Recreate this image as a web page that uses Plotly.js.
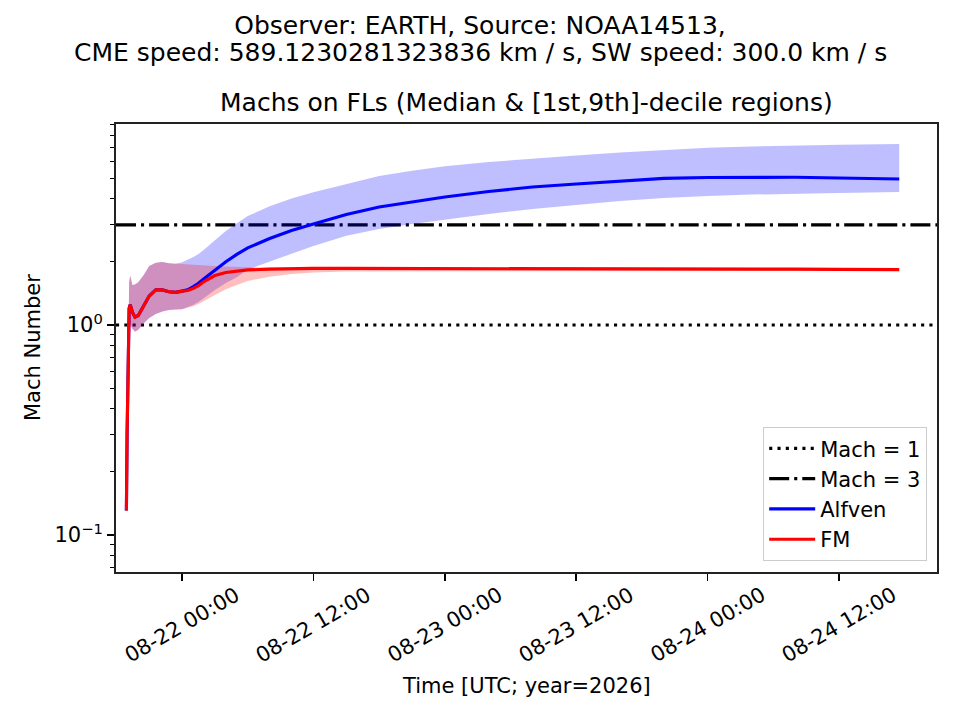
<!DOCTYPE html>
<html>
<head>
<meta charset="utf-8">
<script src="https://cdn.plot.ly/plotly-3.0.1.min.js"></script>
<style>
  html, body { margin: 0; padding: 0; background: #fff; }
  #chart { width: 960px; height: 720px; }
</style>
</head>
<body>
<div id="chart"></div>
<script>
/* Mach numbers along field lines: median + [1st,9th]-decile bands */

const times = [
  "2026-08-21 18:55", "2026-08-21 18:59", "2026-08-21 19:10", "2026-08-21 19:16",
  "2026-08-21 19:28", "2026-08-21 19:42", "2026-08-21 20:00", "2026-08-21 20:30",
  "2026-08-21 21:00", "2026-08-21 21:36", "2026-08-21 22:12", "2026-08-21 22:48",
  "2026-08-21 23:24", "2026-08-22 00:00", "2026-08-22 00:30", "2026-08-22 01:00",
  "2026-08-22 01:30", "2026-08-22 02:00", "2026-08-22 03:00", "2026-08-22 04:00",
  "2026-08-22 05:00", "2026-08-22 06:00", "2026-08-22 08:00", "2026-08-22 10:00",
  "2026-08-22 12:00", "2026-08-22 15:00", "2026-08-22 18:00", "2026-08-22 21:00",
  "2026-08-23 00:00", "2026-08-23 04:00", "2026-08-23 08:00", "2026-08-23 12:00",
  "2026-08-23 16:00", "2026-08-23 20:00", "2026-08-24 00:00", "2026-08-24 04:00",
  "2026-08-24 08:00", "2026-08-24 12:00", "2026-08-24 17:30",
];

const alfvenMedian = [
  0.131, 0.31, 1.20, 1.25, 1.15, 1.09, 1.11, 1.245, 1.375, 1.47, 1.47, 1.44, 1.43,
  1.45, 1.47, 1.52, 1.58, 1.66, 1.83, 2.0, 2.17, 2.33, 2.58, 2.82, 3.03, 3.36,
  3.65, 3.87, 4.07, 4.32, 4.54, 4.69, 4.85, 4.99, 5.04, 5.05, 5.05, 5.01, 4.96,
];
const alfvenLow = [
  0.127, 0.29, 0.98, 1.0, 0.96, 0.93, 0.95, 1.02, 1.08, 1.13, 1.16, 1.18, 1.185,
  1.19, 1.22, 1.245, 1.287, 1.345, 1.468, 1.585, 1.69, 1.84, 2.01, 2.19, 2.38, 2.66,
  2.865, 3.03, 3.18, 3.38, 3.57, 3.73, 3.89, 4.03, 4.11, 4.18, 4.23, 4.25, 4.30,
];
const alfvenHigh = [
  0.135, 0.33, 1.6, 1.72, 1.55, 1.56, 1.6, 1.73, 1.91, 1.98, 1.995, 1.97, 1.96,
  1.99, 2.04, 2.1, 2.18, 2.28, 2.53, 2.8, 3.05, 3.3, 3.68, 4.0, 4.29, 4.7,
  5.12, 5.43, 5.7, 5.97, 6.2, 6.42, 6.63, 6.82, 6.98, 7.08, 7.16, 7.22, 7.27,
];

const fmMedian = [
  0.131, 0.31, 1.20, 1.25, 1.15, 1.09, 1.11, 1.245, 1.375, 1.47, 1.47, 1.44, 1.43,
  1.45, 1.46, 1.49, 1.54, 1.61, 1.72, 1.78, 1.81, 1.83, 1.845, 1.855, 1.86, 1.86,
  1.86, 1.86, 1.86, 1.86, 1.86, 1.86, 1.86, 1.855, 1.85, 1.848, 1.845, 1.84, 1.835,
];
const fmLow = [
  0.127, 0.29, 0.98, 1.0, 0.96, 0.93, 0.95, 1.02, 1.08, 1.13, 1.16, 1.18, 1.185,
  1.19, 1.21, 1.23, 1.26, 1.30, 1.39, 1.48, 1.55, 1.62, 1.70, 1.75, 1.78, 1.80,
  1.81, 1.815, 1.815, 1.815, 1.815, 1.815, 1.815, 1.815, 1.815, 1.812, 1.81, 1.81, 1.81,
];
const fmHigh = [
  0.135, 0.33, 1.6, 1.72, 1.55, 1.56, 1.6, 1.73, 1.91, 1.98, 1.995, 1.97, 1.96,
  1.95, 1.94, 1.93, 1.93, 1.92, 1.91, 1.90, 1.89, 1.885, 1.88, 1.88, 1.88, 1.88,
  1.88, 1.88, 1.88, 1.88, 1.88, 1.88, 1.878, 1.875, 1.872, 1.87, 1.868, 1.865, 1.86,
];

const machLevels = [1, 3];
const machNames = ["Mach = 1", "Mach = 3"];

const tickTimes = [
  "2026-08-22 00:00", "2026-08-22 12:00", "2026-08-23 00:00",
  "2026-08-23 12:00", "2026-08-24 00:00", "2026-08-24 12:00",
];
const tickLabels = [
  "08-22 00:00", "08-22 12:00", "08-23 00:00",
  "08-23 12:00", "08-24 00:00", "08-24 12:00",
];

const xMin = "2026-08-21 17:58";
const xMax = "2026-08-24 20:57";

const FONT = "DejaVu Sans, Liberation Sans, sans-serif";
const LW = 3.125;

function band(lo, hi, color) {
  return {
    type: "scatter",
    mode: "lines",
    x: times.concat(times.slice().reverse()),
    y: hi.concat(lo.slice().reverse()),
    fill: "toself",
    fillcolor: color,
    line: { width: 0 },
    showlegend: false,
    hoverinfo: "skip",
  };
}

function median(values, name, color) {
  return {
    type: "scatter",
    mode: "lines",
    name: name,
    x: times,
    y: values,
    line: { color: color, width: LW },
  };
}

const machDash = ["3.1px,5.2px", "20px,5px,3.1px,5px"];
const machTraces = machLevels.map((level, i) => ({
  type: "scatter",
  mode: "lines",
  name: machNames[i],
  x: [xMin, xMax],
  y: [level, level],
  line: { color: "#000000", width: LW, dash: machDash[i] },
  hoverinfo: "skip",
}));

const traces = [
  ...machTraces,
  band(alfvenLow, alfvenHigh, "rgba(0,0,255,0.25)"),
  band(fmLow, fmHigh, "rgba(255,0,0,0.25)"),
  median(alfvenMedian, "Alfven", "#0000ff"),
  median(fmMedian, "FM", "#ff0000"),
];

const minorVals = [];
[0.01, 0.1, 1].forEach((d) => {
  for (let k = 2; k <= 9; k++) minorVals.push(k * d);
});

const tickAnnotations = tickTimes.map((t, i) => ({
  x: t,
  xref: "x",
  y: -0.118,
  yref: "paper",
  text: tickLabels[i],
  textangle: -30,
  showarrow: false,
  xanchor: "center",
  yanchor: "middle",
  font: { family: FONT, size: 21, color: "#000" },
}));

const layout = {
  width: 960,
  height: 720,
  paper_bgcolor: "#ffffff",
  plot_bgcolor: "#ffffff",
  font: { family: FONT, size: 21, color: "#000000" },
  margin: { l: 116, r: 23, t: 124, b: 148, pad: 0 },
  title: {
    text: "Observer: EARTH, Source: NOAA14513,",
    font: { family: FONT, size: 25, color: "#000" },
    x: 0.5,
    xref: "container",
    xanchor: "center",
    y: 0.9653,
    yref: "container",
    yanchor: "middle",
  },
  xaxis: {
    type: "date",
    range: [xMin, xMax],
    tickmode: "array",
    tickvals: tickTimes,
    ticktext: tickLabels,
    showticklabels: false,
    ticks: "outside",
    ticklen: 7.3,
    tickwidth: 1.67,
    tickcolor: "#000",
    showline: true,
    linecolor: "#222",
    linewidth: 1.67,
    mirror: true,
    showgrid: false,
    zeroline: false,
  },
  yaxis: {
    type: "log",
    range: [Math.log10(0.0667), Math.log10(9.06)],
    tickmode: "array",
    tickvals: [0.1, 1],
    ticktext: ["10<sup>\u22121</sup>", "10<sup>0</sup>"],
    tickfont: { family: FONT, size: 21, color: "#000" },
    ticks: "outside",
    ticklen: 7.3,
    tickwidth: 1.67,
    tickcolor: "#000",
    minor: {
      tickmode: "array",
      tickvals: minorVals,
      ticks: "outside",
      ticklen: 4.2,
      tickwidth: 1.25,
      tickcolor: "#000",
      showgrid: false,
    },
    showline: true,
    linecolor: "#222",
    linewidth: 1.67,
    mirror: true,
    showgrid: false,
    zeroline: false,
  },
  legend: {
    x: 0.9878,
    y: 0.0246,
    xanchor: "right",
    yanchor: "bottom",
    bgcolor: "rgba(255,255,255,0.8)",
    bordercolor: "#cccccc",
    borderwidth: 1.2,
    font: { family: FONT, size: 21, color: "#000" },
    itemwidth: 46,
  },
  annotations: [
    {
      text: "CME speed: 589.1230281323836 km / s, SW speed: 300.0 km / s",
      x: (480 - 116) / 821,
      xref: "paper",
      y: 1.1585,
      yref: "paper",
      xanchor: "center",
      yanchor: "middle",
      showarrow: false,
      font: { family: FONT, size: 25, color: "#000" },
    },
    {
      text: "Machs on FLs (Median & [1st,9th]-decile regions)",
      x: 0.5,
      xref: "paper",
      y: 1.049,
      yref: "paper",
      xanchor: "center",
      yanchor: "middle",
      showarrow: false,
      font: { family: FONT, size: 25, color: "#000" },
    },
    {
      text: "Time [UTC; year=2026]",
      x: 0.5,
      xref: "paper",
      y: -0.2545,
      yref: "paper",
      xanchor: "center",
      yanchor: "middle",
      showarrow: false,
      font: { family: FONT, size: 21, color: "#000" },
    },
    {
      text: "Mach Number",
      x: -0.101,
      xref: "paper",
      y: 0.5,
      yref: "paper",
      xanchor: "center",
      yanchor: "middle",
      textangle: -90,
      showarrow: false,
      font: { family: FONT, size: 21, color: "#000" },
    },
    ...tickAnnotations,
  ],
};

Plotly.newPlot("chart", traces, layout, { displayModeBar: false, staticPlot: true });
</script>
</body>
</html>
